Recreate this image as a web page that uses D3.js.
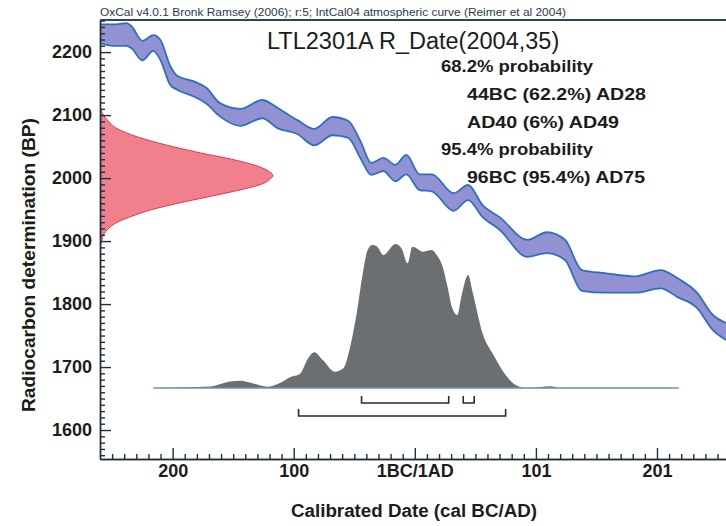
<!DOCTYPE html>
<html>
<head>
<meta charset="utf-8">
<script src="https://cdn.jsdelivr.net/npm/d3@7"></script>
<style>
  body { margin: 0; background: #fff; }
  svg { display: block; }
</style>
</head>
<body>
<div id="chart"></div>
<script>
// ---- Data ----

// Calibration curve (IntCal04 band): calendar year (0 = 1BC/1AD), upper / lower BP edges
const curveYears = [-260, -249, -238, -234, -225, -216, -210, -202, -196, -183, -172, -161, -144, -126, -113, -97, -83, -68, -55, -45, -36, -26, -16, -7, 4, 14, 32, 44, 56, 70, 93, 109, 124, 138, 157, 182, 203, 217, 233, 246, 257];
const curveUpper = [2244, 2244, 2246, 2241, 2218, 2227, 2219, 2178, 2162, 2154, 2143, 2119, 2110, 2124, 2111, 2092, 2078, 2097, 2091, 2059, 2024, 2032, 2021, 2037, 2006, 2006, 1976, 1989, 1957, 1938, 1902, 1914, 1902, 1854, 1849, 1844, 1854, 1841, 1818, 1783, 1770];
const curveLower = [2214, 2210, 2210, 2206, 2187, 2202, 2187, 2148, 2140, 2130, 2118, 2098, 2083, 2095, 2079, 2070, 2052, 2068, 2064, 2032, 2005, 2011, 1995, 2006, 1981, 1979, 1948, 1965, 1938, 1918, 1875, 1881, 1870, 1821, 1818, 1818, 1825, 1811, 1794, 1759, 1743];

// Radiocarbon determination 2004 +/- 35 BP (relative probability)
const rcBP = [2115, 2100, 2090, 2080, 2070, 2060, 2050, 2040, 2030, 2020, 2010, 2004, 2000, 1990, 1980, 1970, 1960, 1950, 1940, 1930, 1920, 1910, 1900, 1890];
const rcProb = [0, 0.02, 0.05, 0.09, 0.17, 0.28, 0.42, 0.58, 0.76, 0.90, 0.98, 1.0, 0.99, 0.93, 0.79, 0.62, 0.45, 0.30, 0.19, 0.10, 0.05, 0.02, 0.01, 0];

// Calibrated date distribution (relative probability)
const calYears = [-216, -169, -153, -144, -134, -122, -111, -103, -95, -88, -83, -76, -66, -59, -54, -48, -43, -39, -35, -31, -26, -16, -11, -6, -2, 7, 14, 18, 23, 27, 31, 35, 39, 44, 48, 56, 65, 75, 85, 93, 104, 112, 120, 218];
const calProb = [0, 0.01, 0.045, 0.051, 0.033, 0.009, 0.037, 0.075, 0.097, 0.208, 0.248, 0.194, 0.113, 0.137, 0.264, 0.519, 0.796, 0.958, 0.993, 0.981, 0.924, 1.0, 0.970, 0.866, 0.981, 0.947, 0.958, 0.924, 0.842, 0.703, 0.553, 0.507, 0.657, 0.785, 0.657, 0.379, 0.229, 0.090, 0.014, 0, 0.007, 0.012, 0, 0];

// Highest probability ranges
const range68 = [[-44, 28], [40, 49]];
const range95 = [[-96, 75]];

// Ticks
const xTickValues = [-200, -100, 0, 100, 200];
const xTickLabels = ["200", "100", "1BC/1AD", "101", "201"];
const yTickValues = [1600, 1700, 1800, 1900, 2000, 2100, 2200];

// Texts
const headerText = "OxCal v4.0.1 Bronk Ramsey (2006); r:5; IntCal04 atmospheric curve (Reimer et al 2004)";
const titleText = "LTL2301A R_Date(2004,35)";
const summaryLines = ["68.2% probability", "44BC (62.2%) AD28", "AD40 (6%) AD49", "95.4% probability", "96BC (95.4%) AD75"];
const xTitle = "Calibrated Date (cal BC/AD)";
const yTitle = "Radiocarbon determination (BP)";

// ---- Layout ----
const WIDTH = 726, HEIGHT = 526;
const PLOT = { left: 100, right: 726, top: 20, bottom: 459 };
const FONT = "'Liberation Sans', Arial, Helvetica, sans-serif";
const AXIS_COLOR = "#1f2f3c";
const TEXT_COLOR = "#1c1c1c";

const svg = d3.select("#chart")
    .append("svg")
    .attr("width", WIDTH)
    .attr("height", HEIGHT);

const x = d3.scaleLinear().domain([-260, 257]).range([PLOT.left, PLOT.right]);
const y = d3.scaleLinear().domain([1554, 2251]).range([PLOT.bottom, PLOT.top]);
// widths of the two probability plots
const rcWidth = d3.scaleLinear().domain([0, 1]).range([PLOT.left, 273]);
const calHeight = d3.scaleLinear().domain([0, 1]).range([388, 244]);

svg.append("clipPath").attr("id", "plotClip")
    .append("rect")
    .attr("x", PLOT.left).attr("y", PLOT.top)
    .attr("width", PLOT.right - PLOT.left).attr("height", PLOT.bottom - PLOT.top);

const plot = svg.append("g").attr("clip-path", "url(#plotClip)");

// --- radiocarbon determination (red) ---
const rcData = rcBP.map((bp, i) => ({ bp, p: rcProb[i] }));
plot.append("path")
    .datum(rcData)
    .attr("d", d3.area()
        .curve(d3.curveMonotoneY)
        .y(d => y(d.bp))
        .x0(PLOT.left)
        .x1(d => rcWidth(d.p)))
    .attr("fill", "#f1808d")
    .attr("stroke", "#e0394e")
    .attr("stroke-width", 1);

// --- calibration curve band (blue) ---
const bandData = curveYears.map((yr, i) => ({ yr, hi: curveUpper[i], lo: curveLower[i] }));
plot.append("path")
    .datum(bandData)
    .attr("d", d3.area()
        .curve(d3.curveMonotoneX)
        .x(d => x(d.yr))
        .y0(d => y(d.lo))
        .y1(d => y(d.hi)))
    .attr("fill", "#9292d3");

["hi", "lo"].forEach(key => {
    plot.append("path")
        .datum(bandData)
        .attr("d", d3.line()
            .curve(d3.curveMonotoneX)
            .x(d => x(d.yr))
            .y(d => y(d[key])))
        .attr("fill", "none")
        .attr("stroke", "#2f6fc2")
        .attr("stroke-width", 1.8);
});

// --- calibrated distribution (grey) ---
const calData = calYears.map((yr, i) => ({ yr, p: calProb[i] }));
plot.append("path")
    .datum(calData)
    .attr("d", d3.area()
        .curve(d3.curveMonotoneX)
        .x(d => x(d.yr))
        .y0(calHeight(0))
        .y1(d => calHeight(d.p)))
    .attr("fill", "#6c6f72");

plot.append("line")
    .attr("x1", x(d3.min(calYears))).attr("x2", x(d3.max(calYears)))
    .attr("y1", calHeight(0)).attr("y2", calHeight(0))
    .attr("stroke", "#6b93a9")
    .attr("stroke-width", 1.3);

// --- range brackets ---
function drawRanges(ranges, lineY) {
    ranges.forEach(r => {
        plot.append("path")
            .attr("d", `M${x(r[0])},${lineY - 7}V${lineY}H${x(r[1])}V${lineY - 7}`)
            .attr("fill", "none")
            .attr("stroke", "#2b2b2b")
            .attr("stroke-width", 1.6);
    });
}
drawRanges(range68, 403);
drawRanges(range95, 416);

// --- axes ---
const xMinor = d3.range(-250, 257, 10).filter(v => !xTickValues.includes(v));
const yMinor = d3.range(1560, 2251, 10).filter(v => !yTickValues.includes(v));

function styleAxis(g) {
    g.selectAll("path, line").attr("stroke", AXIS_COLOR).attr("stroke-width", 1.4);
    g.selectAll("text")
        .attr("fill", TEXT_COLOR)
        .attr("font-size", 18)
        .attr("font-weight", "bold")
        .attr("font-family", FONT);
}

svg.append("g")
    .attr("transform", `translate(0,${PLOT.bottom})`)
    .call(d3.axisBottom(x).tickValues(xMinor).tickSize(-5).tickSizeOuter(0).tickFormat(""))
    .call(styleAxis);

svg.append("g")
    .attr("transform", `translate(0,${PLOT.bottom})`)
    .call(d3.axisBottom(x).tickValues(xTickValues).tickSize(-11).tickSizeOuter(0).tickPadding(5)
        .tickFormat((d, i) => xTickLabels[i]))
    .call(styleAxis);

svg.append("g")
    .attr("transform", `translate(${PLOT.left},0)`)
    .call(d3.axisLeft(y).tickValues(yMinor).tickSize(-5).tickSizeOuter(0).tickFormat(""))
    .call(styleAxis);

svg.append("g")
    .attr("transform", `translate(${PLOT.left},0)`)
    .call(d3.axisLeft(y).tickValues(yTickValues).tickSize(-11).tickSizeOuter(0).tickPadding(8)
        .tickFormat(d3.format("d")))
    .call(styleAxis);

// top frame line
svg.append("line")
    .attr("x1", PLOT.left).attr("x2", PLOT.right)
    .attr("y1", PLOT.top).attr("y2", PLOT.top)
    .attr("stroke", "#2c4656")
    .attr("stroke-width", 1.8);

// --- texts ---
svg.append("text")
    .attr("x", PLOT.left).attr("y", 16)
    .attr("font-family", FONT).attr("font-size", 10.5)
    .attr("textLength", 466).attr("lengthAdjust", "spacingAndGlyphs")
    .attr("fill", "#2a3a4c")
    .text(headerText);

svg.append("text")
    .attr("x", 267).attr("y", 48.5)
    .attr("font-family", FONT).attr("font-size", 23.5)
    .attr("fill", TEXT_COLOR)
    .text(titleText);

const summaryWidths = [152, 179, 152, 152, 178];
svg.selectAll(".summary")
    .data(summaryLines)
    .enter()
    .append("text")
    .attr("class", "summary")
    .attr("x", (d, i) => (i === 0 || i === 3) ? 441 : 467)
    .attr("y", (d, i) => 72 + i * 27.75)
    .attr("font-family", FONT).attr("font-size", 17).attr("font-weight", "bold")
    .attr("textLength", (d, i) => summaryWidths[i]).attr("lengthAdjust", "spacingAndGlyphs")
    .attr("fill", TEXT_COLOR)
    .text(d => d);

svg.append("text")
    .attr("x", 414).attr("y", 517)
    .attr("text-anchor", "middle")
    .attr("font-family", FONT).attr("font-size", 18).attr("font-weight", "bold")
    .attr("textLength", 246).attr("lengthAdjust", "spacingAndGlyphs")
    .attr("fill", TEXT_COLOR)
    .text(xTitle);

svg.append("text")
    .attr("transform", "translate(35,265) rotate(-90)")
    .attr("text-anchor", "middle")
    .attr("font-family", FONT).attr("font-size", 18).attr("font-weight", "bold")
    .attr("textLength", 294).attr("lengthAdjust", "spacingAndGlyphs")
    .attr("fill", TEXT_COLOR)
    .text(yTitle);
</script>
</body>
</html>
